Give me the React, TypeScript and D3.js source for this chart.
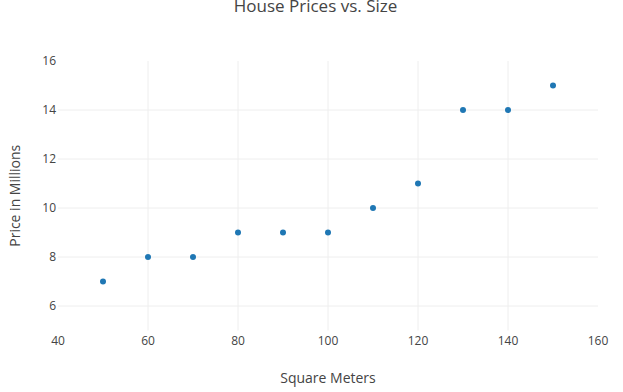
import React, { useRef, useEffect } from "react";
import * as d3 from "d3";

const sizes = [50, 60, 70, 80, 90, 100, 110, 120, 130, 140, 150];
const prices = [7, 8, 8, 9, 9, 9, 10, 11, 14, 14, 15];
const xTicks = [40, 60, 80, 100, 120, 140, 160];
const yTicks = [6, 8, 10, 12, 14, 16];

const ScatterChart: React.FC = () => {
  const chartRef = useRef<SVGSVGElement | null>(null);

  useEffect(() => {
    if (!chartRef.current) return;
    const svg = d3.select(chartRef.current);
    svg.selectAll("*").remove();

    const width = 623;
    const height = 392;
    const margin = { top: 61, right: 25, bottom: 61.5, left: 58 };
    const font = "'Open Sans', verdana, arial, sans-serif";
    const textColor = "#444";

    svg.attr("width", width).attr("height", height);

    const x = d3
      .scaleLinear()
      .domain([40, 160])
      .range([margin.left, width - margin.right]);

    const y = d3
      .scaleLinear()
      .domain([5, 16])
      .range([height - margin.bottom, margin.top]);

    // grid lines (skip the ones sitting on the plot edges)
    const grid = svg.append("g");
    grid
      .selectAll("line.vx")
      .data(xTicks.filter((t) => t > 40 && t < 160))
      .join("line")
      .attr("x1", (d) => x(d))
      .attr("x2", (d) => x(d))
      .attr("y1", margin.top)
      .attr("y2", height - margin.bottom)
      .attr("stroke", "#eee")
      .attr("stroke-width", 1);
    grid
      .selectAll("line.hy")
      .data(yTicks.filter((t) => t < 16))
      .join("line")
      .attr("x1", margin.left)
      .attr("x2", width - margin.right)
      .attr("y1", (d) => y(d))
      .attr("y2", (d) => y(d))
      .attr("stroke", "#eee")
      .attr("stroke-width", 1);

    // tick labels
    svg
      .append("g")
      .selectAll("text")
      .data(xTicks)
      .join("text")
      .attr("x", (d) => x(d))
      .attr("y", 345)
      .attr("text-anchor", "middle")
      .attr("font-family", font)
      .attr("font-size", 12)
      .attr("fill", textColor)
      .text((d) => d);

    svg
      .append("g")
      .selectAll("text")
      .data(yTicks)
      .join("text")
      .attr("x", margin.left - 2)
      .attr("y", (d) => y(d) + 4)
      .attr("text-anchor", "end")
      .attr("font-family", font)
      .attr("font-size", 12)
      .attr("fill", textColor)
      .text((d) => d);

    // points
    svg
      .append("g")
      .selectAll("circle")
      .data(sizes.map((s, i) => ({ s, p: prices[i] })))
      .join("circle")
      .attr("cx", (d) => x(d.s))
      .attr("cy", (d) => y(d.p))
      .attr("r", 3)
      .attr("fill", "#1f77b4");

    // titles
    svg
      .append("text")
      .attr("x", width / 2 + 4)
      .attr("y", 12)
      .attr("text-anchor", "middle")
      .attr("font-family", font)
      .attr("font-size", 17)
      .attr("fill", textColor)
      .text("House Prices vs. Size");

    svg
      .append("text")
      .attr("x", (margin.left + width - margin.right) / 2)
      .attr("y", 383)
      .attr("text-anchor", "middle")
      .attr("font-family", font)
      .attr("font-size", 14)
      .attr("fill", textColor)
      .text("Square Meters");

    svg
      .append("text")
      .attr(
        "transform",
        `translate(20,${(margin.top + height - margin.bottom) / 2}) rotate(-90)`
      )
      .attr("text-anchor", "middle")
      .attr("font-family", font)
      .attr("font-size", 14)
      .attr("fill", textColor)
      .text("Price in Millions");
  }, []);

  return (
    <div style={{ position: "absolute", left: 0, top: 0 }}>
      <svg ref={chartRef} style={{ display: "block" }} />
    </div>
  );
};

export default function App() {
  return <ScatterChart />;
}
